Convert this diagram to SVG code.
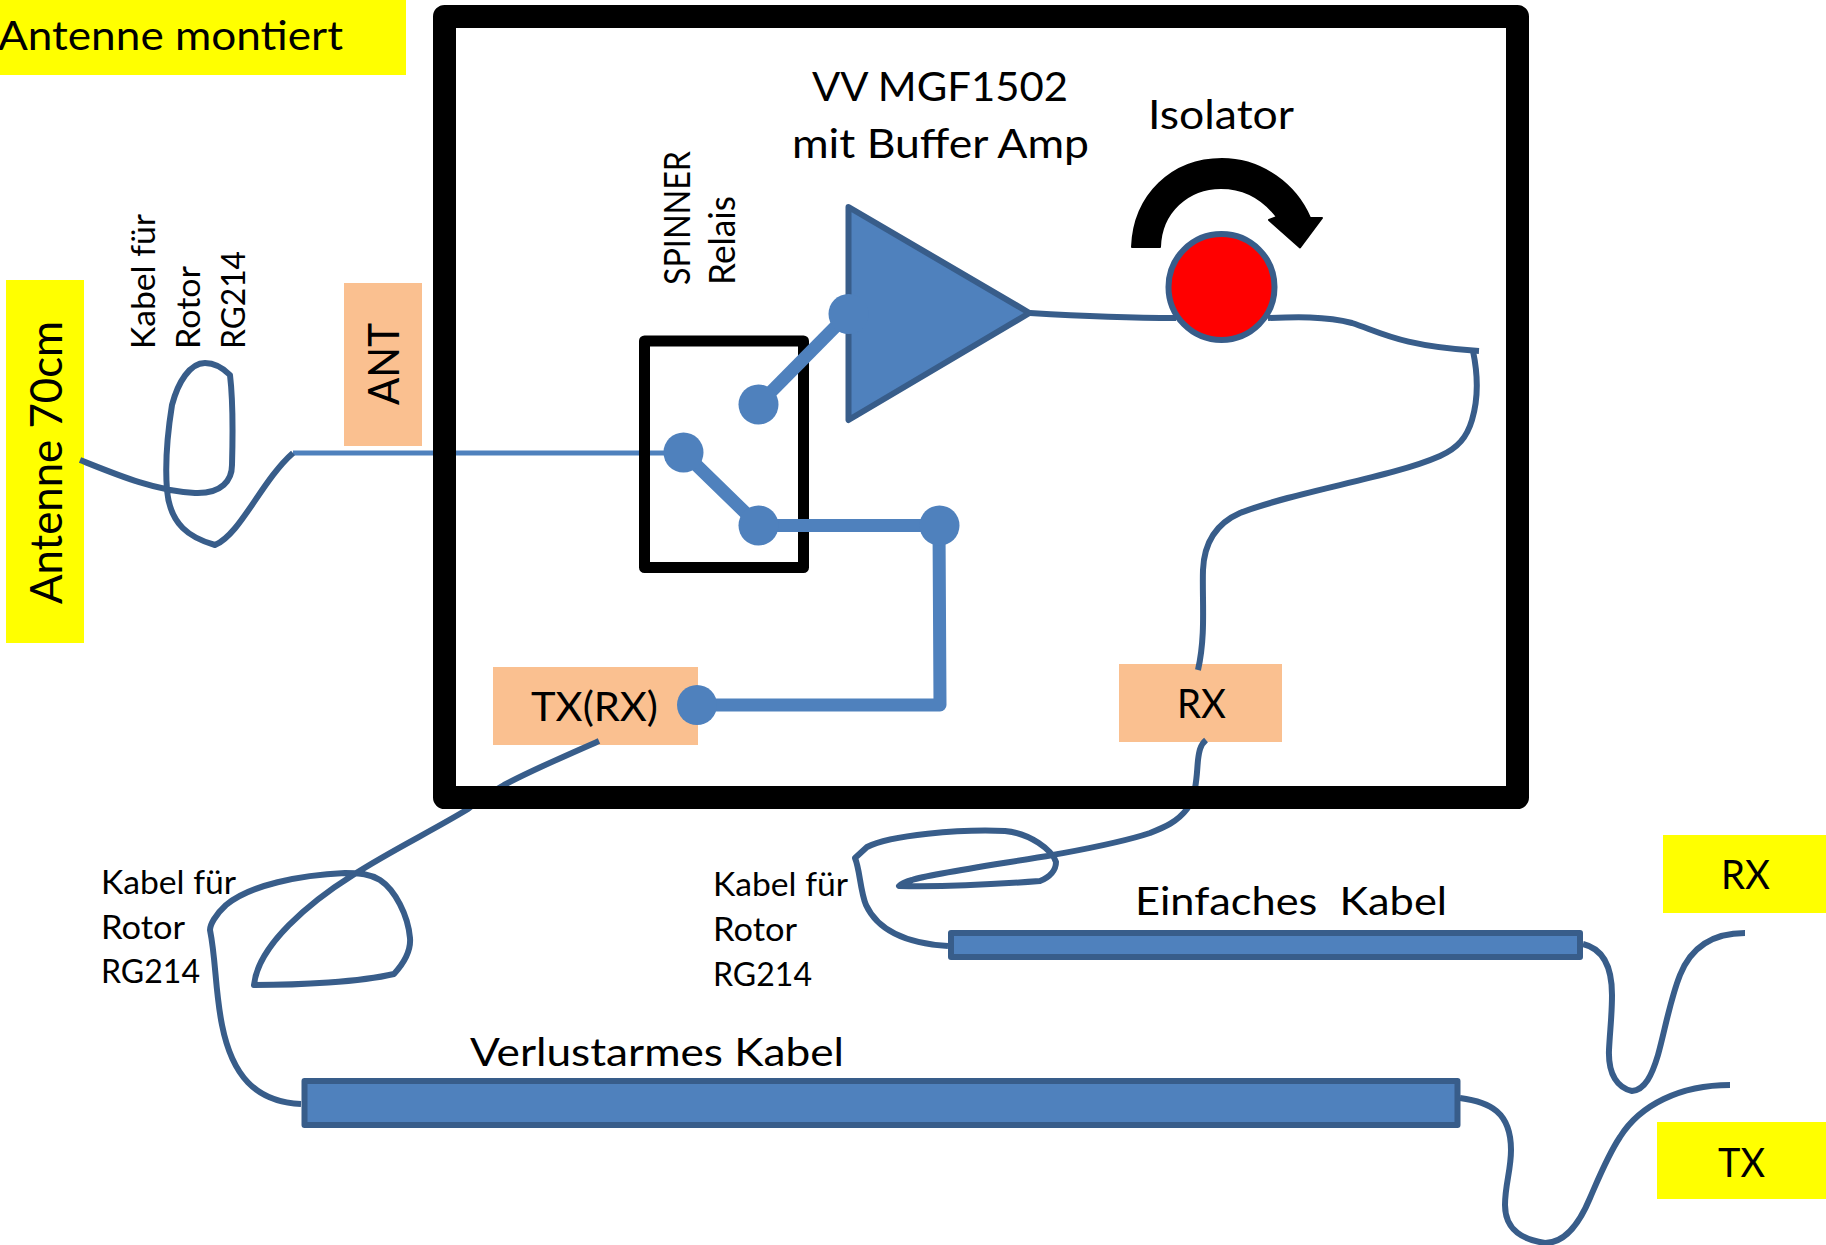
<svg xmlns="http://www.w3.org/2000/svg" width="1826" height="1245" viewBox="0 0 1826 1245">
<style>
text{font-family:"Lato","Carlito","Liberation Sans",sans-serif;fill:#000;white-space:pre}
.cable{fill:none;stroke:#385d8a;stroke-width:6;stroke-linejoin:round}
.thin{fill:none;stroke:#4f81bd;stroke-width:5}
.thick{fill:none;stroke:#4f81bd;stroke-width:13;stroke-linejoin:round}
.dot{fill:#4f81bd}
.bar{fill:#4f81bd;stroke:#385d8a;stroke-width:6;stroke-linejoin:round}
.yel{fill:#ff0}
.ora{fill:#fac090}
.frame{fill:none;stroke:#000;stroke-linejoin:round}
.t32{font-size:32px}.t33{font-size:33px}.t36{font-size:36px}.t39{font-size:39px}.t40{font-size:40px}.t41{font-size:41px}.t43{font-size:43px}.t44{font-size:44px}
</style>
<rect width="1826" height="1245" fill="#fff"/>
<g id="label-antenne-70cm"><rect class="yel" x="6" y="280" width="78" height="363"/><text class="t44" transform="translate(62,604) rotate(-90)" textLength="283" lengthAdjust="spacingAndGlyphs">Antenne 70cm</text></g>
<g id="port-ant"><rect class="ora" x="344" y="283" width="78" height="163"/><text class="t43" transform="translate(399,405) rotate(-90)" textLength="82" lengthAdjust="spacingAndGlyphs">ANT</text></g>
<g id="port-txrx"><rect class="ora" x="493" y="667" width="205" height="78"/><text class="t40" x="531" y="721" textLength="127" lengthAdjust="spacingAndGlyphs">TX(RX)</text></g>
<g id="port-rx"><rect class="ora" x="1119" y="664" width="163" height="78"/><text class="t40" x="1177" y="718" textLength="49" lengthAdjust="spacingAndGlyphs">RX</text></g>
<g id="connectors">
<path class="thin" d="M293,453 H683"/>
<path class="cable" d="M80,460 C115,474 155,491 195,493 C222,494 232,480 232,465 C233,430 233,400 230,375 C222,367 214,363 205,363 C190,363 178,382 172,405 C168,430 165,465 167,490 C170,525 190,538 215,545 C240,535 262,480 293,453"/>
<path class="cable" d="M1030,313 C1080,316 1130,318 1176,318"/>
<path class="cable" d="M1268,318 C1295,317 1325,316 1352,323 C1380,332 1400,346 1479,351"/>
<path class="cable" d="M1473,351 C1478,375 1478,400 1472,420 C1467,437 1458,448 1440,456 C1390,478 1300,490 1240,513 C1215,524 1204,545 1203,570 C1202,600 1206,635 1198,670"/>
<path class="cable" d="M1206,740 C1200,745 1199,752 1198,760 C1197,770 1197,778 1195,788 C1193,800 1190,805 1187,809 C1177,822 1165,827 1150,833 C1120,843 1085,849 1053,855 C1000,864 930,874 912,880 C905,882 900,885 899,886 C940,887 1000,884 1040,881 C1050,877 1056,870 1056,862 C1052,850 1030,833 1005,831 C960,829 890,835 867,847 L855,858 C860,870 860,890 866,905 C880,935 915,944 948,946"/>
<path class="cable" d="M599,741 C560,758 530,771 504,785 C490,793 480,799 468,809 C430,832 392,850 353,875 C310,902 258,945 254,985 C300,985 360,982 394,974 C405,962 411,950 410,938 C408,915 395,890 380,880 C370,874 360,873 345,873 C300,875 250,885 226,905 C215,915 210,925 210,930 C216,960 215,990 222,1025 C232,1075 255,1102 301,1104"/>
<path class="cable" d="M1583,944 C1600,948 1612,962 1612,995 C1612,1015 1610,1030 1609,1050 C1608,1075 1618,1088 1632,1091 C1645,1090 1652,1075 1658,1055 C1665,1030 1670,1000 1680,975 C1692,945 1715,933 1745,933"/>
<path class="cable" d="M1460,1098 C1490,1102 1511,1112 1511,1150 C1511,1170 1505,1185 1505,1205 C1505,1232 1525,1240 1545,1243 C1565,1243 1580,1222 1590,1198 C1600,1175 1608,1155 1620,1137 C1640,1105 1680,1085 1730,1085"/>
</g>
<g id="housing"><rect class="frame" x="444.5" y="16.5" width="1073" height="781" stroke-width="23"/></g>
<g id="label-antenne-montiert"><rect class="yel" x="0" y="0" width="406" height="75"/><text class="t41" x="-2" y="50" textLength="345" lengthAdjust="spacingAndGlyphs">Antenne montiert</text></g>
<g id="label-kabel-rotor-1"><text class="t33" transform="translate(155,349) rotate(-90)" textLength="135" lengthAdjust="spacingAndGlyphs">Kabel für</text><text class="t33" transform="translate(200,349) rotate(-90)" textLength="83" lengthAdjust="spacingAndGlyphs">Rotor</text><text class="t33" transform="translate(245,349) rotate(-90)" textLength="98" lengthAdjust="spacingAndGlyphs">RG214</text></g>
<g id="label-spinner"><text class="t36" transform="translate(690,285) rotate(-90)" textLength="134" lengthAdjust="spacingAndGlyphs">SPINNER</text><text class="t36" transform="translate(735,285) rotate(-90)" textLength="89" lengthAdjust="spacingAndGlyphs">Relais</text></g>
<g id="relay"><rect class="frame" x="644.5" y="341" width="159" height="226.5" stroke-width="11"/></g>
<g id="switch">
<path class="thick" d="M758.5,404.5 L848,314"/>
<path class="thick" d="M683.5,452.5 L758.5,525.5 H939 L940,705 H697"/>
</g>
<g id="amplifier"><polygon class="bar" points="848.5,207 1029.5,313 848.5,420"/></g>
<g id="switch-nodes">
<circle class="dot" cx="758.5" cy="404.5" r="20"/><circle class="dot" cx="848.5" cy="314" r="20"/><circle class="dot" cx="683.5" cy="452.5" r="20"/><circle class="dot" cx="758.5" cy="525.5" r="20"/><circle class="dot" cx="939.5" cy="525.5" r="20"/><circle class="dot" cx="697" cy="705" r="20"/>
</g>
<g id="label-amp"><text class="t40" x="812" y="101" textLength="256" lengthAdjust="spacingAndGlyphs">VV MGF1502</text><text class="t40" x="792" y="158" textLength="297" lengthAdjust="spacingAndGlyphs">mit Buffer Amp</text></g>
<g id="isolator">
<text class="t40" x="1148" y="129" textLength="146" lengthAdjust="spacingAndGlyphs">Isolator</text>
<path fill="#000" stroke="#000" stroke-width="2" stroke-linejoin="round" d="M1132,247 C1134,195 1172,159 1222,159 C1262,159 1296,185 1310,218 L1322,218 L1300,247.5 L1269,220 L1277,217 C1264,200 1245,188 1221,188 C1188,188 1161,212 1160,247 Z"/>
<circle cx="1221.5" cy="287" r="53" fill="#f00" stroke="#385d8a" stroke-width="6"/>
</g>
<g id="label-kabel-rotor-2"><text class="t32" x="101" y="894" textLength="135" lengthAdjust="spacingAndGlyphs">Kabel für</text><text class="t32" x="101" y="939" textLength="84" lengthAdjust="spacingAndGlyphs">Rotor</text><text class="t32" x="101" y="983" textLength="99" lengthAdjust="spacingAndGlyphs">RG214</text></g>
<g id="label-kabel-rotor-3"><text class="t32" x="713" y="896" textLength="135" lengthAdjust="spacingAndGlyphs">Kabel für</text><text class="t32" x="713" y="941" textLength="84" lengthAdjust="spacingAndGlyphs">Rotor</text><text class="t32" x="713" y="986" textLength="99" lengthAdjust="spacingAndGlyphs">RG214</text></g>
<g id="cable-einfach"><rect class="bar" x="951" y="933" width="629" height="24"/><text class="t39" x="1135" y="915" textLength="312" lengthAdjust="spacingAndGlyphs">Einfaches  Kabel</text></g>
<g id="cable-verlustarm"><rect class="bar" x="304.5" y="1081" width="1153" height="44"/><text class="t39" x="470" y="1066" textLength="374" lengthAdjust="spacingAndGlyphs">Verlustarmes Kabel</text></g>
<g id="label-rx"><rect class="yel" x="1663" y="835" width="163" height="78"/><text class="t40" x="1721" y="889" textLength="49" lengthAdjust="spacingAndGlyphs">RX</text></g>
<g id="label-tx"><rect class="yel" x="1657" y="1122" width="169" height="77"/><text class="t40" x="1718" y="1177" textLength="47" lengthAdjust="spacingAndGlyphs">TX</text></g>
</svg>
